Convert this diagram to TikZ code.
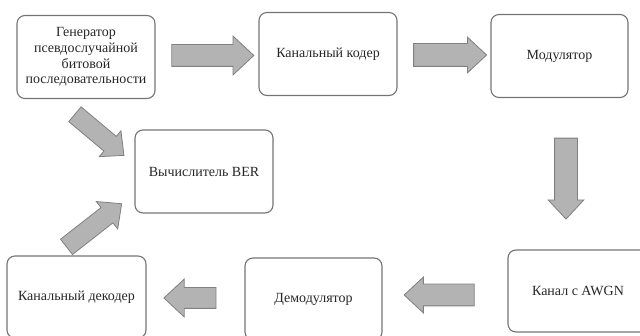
\documentclass[tikz,border=0pt]{standalone}
\usepackage{fontspec}
\setmainfont{Liberation Serif}
\usetikzlibrary{shapes.arrows,calc}
\definecolor{ramka}{HTML}{747474}
\definecolor{strelkafill}{HTML}{B3B3B3}
\definecolor{strelkaline}{HTML}{808080}
\definecolor{tekst}{HTML}{262626}
\begin{document}
\begin{tikzpicture}[x=1pt,y=-1pt,
	blok/.style={draw=ramka,line width=1.1pt,rounded corners=8pt,text=tekst,
		minimum width=138pt,minimum height=83pt,align=center,inner sep=2pt,
		font=\fontsize{14}{15.8}\selectfont},
	strelka/.style={single arrow,draw=strelkaline,fill=strelkafill,line width=0.8pt,
		inner xsep=0pt,inner ysep=10.5pt,single arrow head extend=7pt,
		single arrow tip angle=86}]
		\useasboundingbox (0,0) rectangle (640,336);
		\draw (86,57) node[blok] (gen) {Генератор\\псевдослучайной\\битовой\\последовательности} ;
		\draw (328,54) node[blok] (coder) {Канальный кодер} ;
		\draw (559.5,56) node[blok,minimum width=137pt] (mod) {Модулятор} ;
		\draw (204,171.5) node[blok] (ber) {Вычислитель BER} ;
		\draw (578,291) node[blok,minimum width=140pt,minimum height=82pt] (awgn) {Канал с AWGN} ;
		\draw (313.5,299) node[blok,minimum width=137pt,minimum height=82pt] (demod) {Демодулятор} ;
		\draw (76.5,297) node[blok,minimum width=139pt,minimum height=82pt] (decoder) {Канальный декодер} ;
		
		\coordinate (genber) at (95.5,131.5) ;
		\coordinate (decber) at (90,228.5) ;
		\draw ($(gen.east)!0.5!(coder.west)$) node[strelka,minimum height=82pt,single arrow head extend=8.5pt] (s1) {} ;
		\draw ($(coder.east)!0.5!(mod.west)$) node[strelka,minimum height=73pt,inner ysep=11pt,single arrow head extend=6.5pt] (s2) {} ;
		\draw (566,172.5) node[strelka,minimum height=81pt,inner ysep=11pt,single arrow head extend=6.5pt,rotate=-90] (s3) {} ;
		\draw ($(awgn.west)!0.5!(demod.east)$) node[strelka,minimum height=70pt,rotate=180] (s4) {} ;
		\draw ($(demod.west)!0.5!(decoder.east)$) node[strelka,minimum height=52pt,inner ysep=10pt,single arrow head extend=8.5pt,rotate=180] (s5) {} ;
		\draw (genber) node[strelka,minimum height=64pt,inner ysep=9.2pt,single arrow head extend=7.3pt,rotate=-40] (s6) {} ;
		\draw (decber) node[strelka,minimum height=70pt,inner ysep=9.3pt,single arrow head extend=7.7pt,rotate=38] (s7) {} ;
\end{tikzpicture}
\end{document}
